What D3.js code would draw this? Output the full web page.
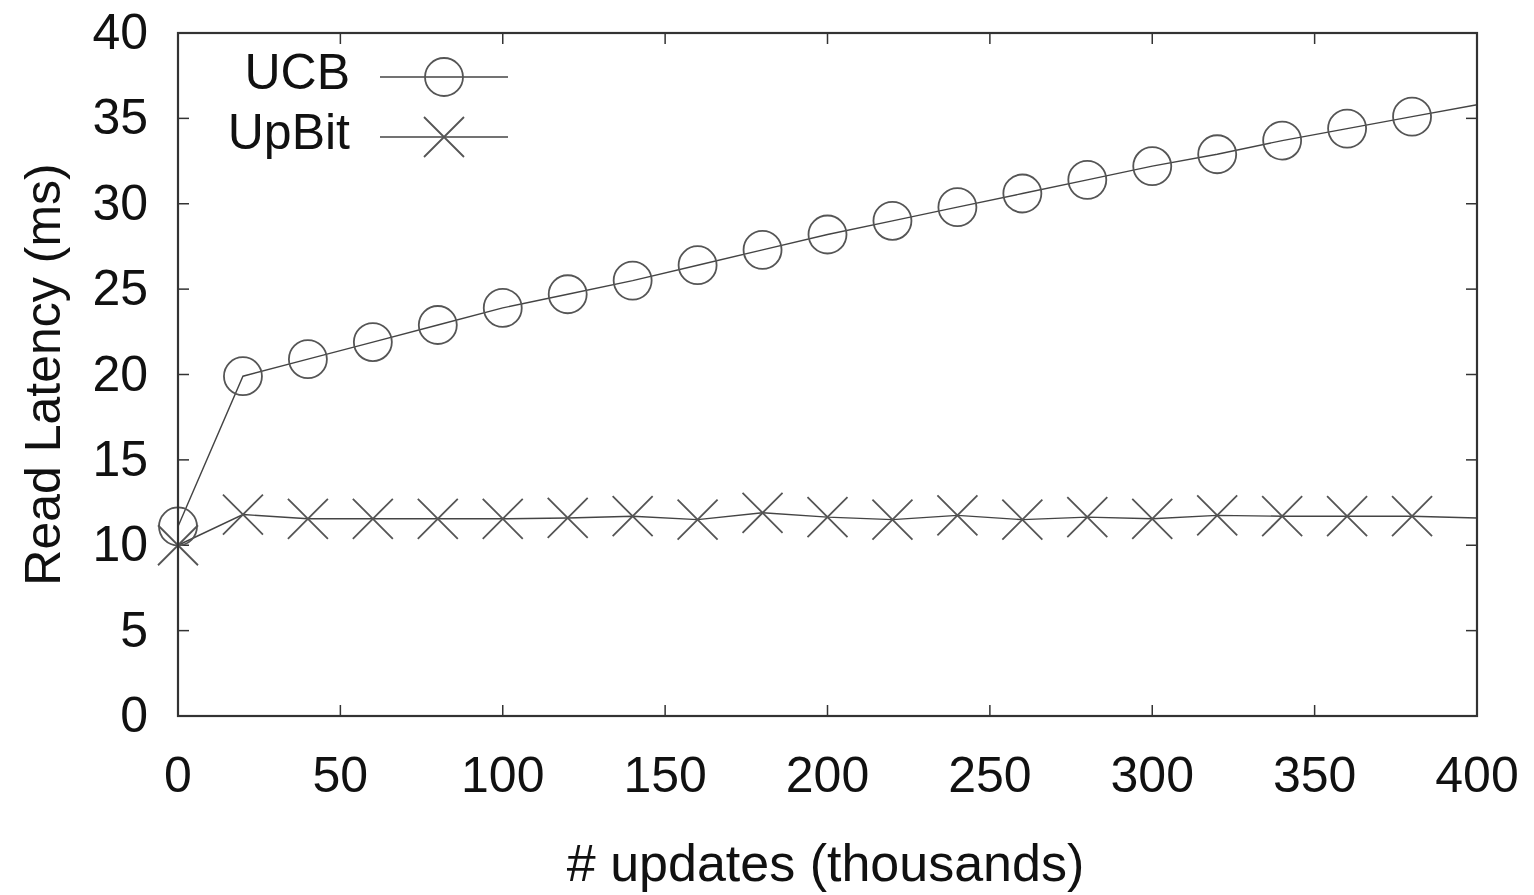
<!DOCTYPE html>
<html>
<head>
<meta charset="utf-8">
<script src="https://cdn.jsdelivr.net/npm/d3@7"></script>
<style>
  body { margin: 0; background: #fff; }
  svg text { font-family: "Liberation Sans", Arial, sans-serif; fill: #111; }
</style>
</head>
<body>
<div id="chart"></div>
<script>
// Data
const updates = [0, 20, 40, 60, 80, 100, 120, 140, 160, 180, 200, 220, 240, 260, 280, 300, 320, 340, 360, 380, 400];
const ucbLatency = [11.1, 19.9, 20.9, 21.9, 22.9, 23.9, 24.7, 25.5, 26.4, 27.3, 28.2, 29.0, 29.8, 30.6, 31.4, 32.2, 32.9, 33.7, 34.4, 35.1, 35.8];
const upbitLatency = [10.0, 11.8, 11.55, 11.55, 11.55, 11.55, 11.6, 11.7, 11.5, 11.9, 11.65, 11.5, 11.75, 11.5, 11.65, 11.55, 11.75, 11.7, 11.7, 11.7, 11.6];
const xTicks = [0, 50, 100, 150, 200, 250, 300, 350, 400];
const yTicks = [0, 5, 10, 15, 20, 25, 30, 35, 40];

// Dimensions
const dims = {width: 1534, height: 895};
const plot = {left: 178, right: 1477, top: 33, bottom: 716};
const fontSize = '50px';

const svg = d3.select('#chart')
  .append('svg')
  .attr('width', dims.width)
  .attr('height', dims.height);

// Scales
const x = d3.scaleLinear().domain([0, 400]).range([plot.left, plot.right]);
const y = d3.scaleLinear().domain([0, 40]).range([plot.bottom, plot.top]);

const tickLen = 11;
const axisColour = '#333';

// Tick marks (gnuplot style: inward, mirrored)
const ticks = svg.append('g').attr('class', 'ticks')
  .attr('stroke', axisColour).attr('stroke-width', 1.5);

xTicks.forEach(t => {
  ticks.append('line').attr('x1', x(t)).attr('x2', x(t))
    .attr('y1', plot.bottom).attr('y2', plot.bottom - tickLen);
  ticks.append('line').attr('x1', x(t)).attr('x2', x(t))
    .attr('y1', plot.top).attr('y2', plot.top + tickLen);
});
yTicks.forEach(t => {
  ticks.append('line').attr('x1', plot.left).attr('x2', plot.left + tickLen)
    .attr('y1', y(t)).attr('y2', y(t));
  ticks.append('line').attr('x1', plot.right).attr('x2', plot.right - tickLen)
    .attr('y1', y(t)).attr('y2', y(t));
});

// Tick labels
svg.append('g').selectAll('text')
  .data(xTicks)
  .enter().append('text')
    .attr('x', d => x(d))
    .attr('y', 792)
    .attr('text-anchor', 'middle')
    .style('font-size', fontSize)
    .text(d => d);

svg.append('g').selectAll('text')
  .data(yTicks)
  .enter().append('text')
    .attr('x', 148)
    .attr('y', d => y(d) + 16)
    .attr('text-anchor', 'end')
    .style('font-size', fontSize)
    .text(d => d);

// Axis titles
svg.append('text')
  .attr('x', (plot.left + plot.right) / 2 - 2)
  .attr('y', 881)
  .attr('text-anchor', 'middle')
  .style('font-size', '52px')
  .text('# updates (thousands)');

svg.append('text')
  .attr('transform', `translate(60, ${(plot.top + plot.bottom) / 2}) rotate(-90)`)
  .attr('text-anchor', 'middle')
  .style('font-size', fontSize)
  .text('Read Latency (ms)');

// Lines
const line = d3.line()
  .x(d => x(d[0]))
  .y(d => y(d[1]));

const ucbPoints = updates.map((u, i) => [u, ucbLatency[i]]);
const upbitPoints = updates.map((u, i) => [u, upbitLatency[i]]);

const lineColour = '#444';
const markColour = '#555';
const markR = 19;

svg.append('path')
  .datum(ucbPoints)
  .attr('fill', 'none')
  .attr('stroke', lineColour)
  .attr('stroke-width', 1.4)
  .attr('d', line);

svg.append('path')
  .datum(upbitPoints)
  .attr('fill', 'none')
  .attr('stroke', lineColour)
  .attr('stroke-width', 1.4)
  .attr('d', line);

// Markers (gnuplot skips the point sitting on the right border)
const drawCircle = (g, cx, cy) => {
  g.append('circle').attr('cx', cx).attr('cy', cy).attr('r', markR)
    .attr('fill', 'none').attr('stroke', markColour).attr('stroke-width', 1.8);
};
const drawCross = (g, cx, cy) => {
  const h = 20;
  g.append('path')
    .attr('d', `M${cx - h},${cy - h}L${cx + h},${cy + h}M${cx - h},${cy + h}L${cx + h},${cy - h}`)
    .attr('fill', 'none').attr('stroke', markColour).attr('stroke-width', 1.8);
};

const marks = svg.append('g').attr('class', 'marks');
ucbPoints.filter(d => d[0] < 400).forEach(d => drawCircle(marks, x(d[0]), y(d[1])));
upbitPoints.filter(d => d[0] < 400).forEach(d => drawCross(marks, x(d[0]), y(d[1])));

// Border
svg.append('rect')
  .attr('x', plot.left).attr('y', plot.top)
  .attr('width', plot.right - plot.left).attr('height', plot.bottom - plot.top)
  .attr('fill', 'none').attr('stroke', axisColour).attr('stroke-width', 2.2);

// Legend
const legend = svg.append('g').attr('class', 'legend');
const legendItems = [
  {name: 'UCB', y: 77, mark: drawCircle},
  {name: 'UpBit', y: 137, mark: drawCross}
];
legendItems.forEach(item => {
  legend.append('text')
    .attr('x', 350).attr('y', item.y + 12)
    .attr('text-anchor', 'end')
    .style('font-size', fontSize)
    .text(item.name);
  legend.append('line')
    .attr('x1', 380).attr('x2', 508)
    .attr('y1', item.y).attr('y2', item.y)
    .attr('stroke', lineColour).attr('stroke-width', 1.4);
  item.mark(legend, 444, item.y);
});
</script>
</body>
</html>
